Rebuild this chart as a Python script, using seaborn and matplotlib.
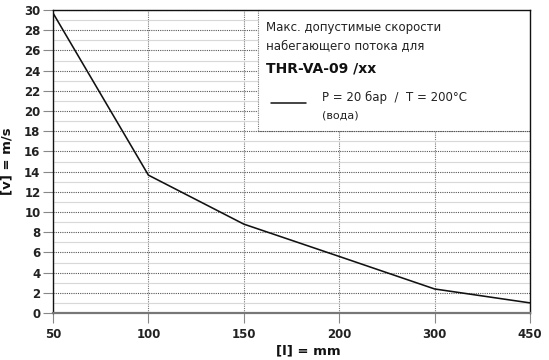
import matplotlib
matplotlib.use("Agg")
import matplotlib.pyplot as plt
import seaborn as sns
import pandas as pd
import numpy as np
from matplotlib.patches import Rectangle

# data
lengths = ["50", "100", "150", "200", "300", "450"]
velocity = [29.7, 13.65, 8.8, 5.6, 2.38, 1.0]
y_ticks = list(range(0, 31, 2))

sns.set_theme(style="white")
plt.rcParams['font.family'] = ['DejaVu Sans']

df = pd.DataFrame({"l": lengths, "v": velocity})

fig = plt.figure(figsize=(5.49, 3.60), dpi=100)
ax = fig.add_axes([53/549, 1-313/360, (530-53)/549, (313-10)/360])

sns.lineplot(data=df, x="l", y="v", ax=ax, color="#111111", linewidth=1.15, sort=False, zorder=5)

ax.set_xlim(0, len(lengths)-1)
ax.set_ylim(0, 30)
ax.set_yticks(y_ticks)
ax.set_yticks(range(1, 30, 2), minor=True)
ax.set_xticks(range(len(lengths)))
ax.set_xticklabels(lengths)

ax.grid(True, which="major", axis="y", linestyle=(0, (1, 1)), color="#555555", linewidth=0.8)
ax.grid(True, which="minor", axis="y", linestyle="-", color="#d8d8d8", linewidth=0.8)
ax.grid(True, which="major", axis="x", linestyle=(0, (1, 1)), color="#777777", linewidth=0.8)
ax.set_axisbelow(True)

for s in ["left", "top", "right"]:
    ax.spines[s].set_color("#111111")
    ax.spines[s].set_linewidth(1.0)
ax.spines["bottom"].set_color("#777777")
ax.spines["bottom"].set_linewidth(1.6)
for s in ax.spines.values():
    s.set_zorder(8)

ax.tick_params(axis="both", which="major", length=7, width=0.8, color="#888888",
               labelsize=8.5, pad=2, direction="out")
ax.tick_params(axis="both", which="minor", length=0)
ax.tick_params(axis="x", bottom=True, pad=4)
ax.tick_params(axis="y", left=True)
for lab in ax.get_xticklabels() + ax.get_yticklabels():
    lab.set_fontweight("bold")
    lab.set_color("#222222")

ax.set_xlabel("[l] = mm", fontsize=9.5, fontweight="bold", color="#111111", labelpad=4)
ax.xaxis.set_label_coords((308-53)/(530-53), -0.105)
ax.set_ylabel("[v] = m/s", fontsize=9.5, fontweight="bold", color="#111111", labelpad=8)

# legend box
x0 = (258-53)/(530-53)
y0 = 18/30
box = Rectangle((x0, y0), 1-x0, 1-y0, transform=ax.transAxes, facecolor="white",
                edgecolor="none", zorder=3)
ax.add_patch(box)
ax.plot([x0, x0], [y0, 1], transform=ax.transAxes, color="#777777",
        linestyle=(0, (1, 1)), linewidth=0.8, zorder=4)
ax.plot([x0, 1], [y0, y0], transform=ax.transAxes, color="#555555",
        linestyle=(0, (1, 1)), linewidth=0.8, zorder=4)

def fx(px):
    return (px-53)/(530-53)
def fy(py):
    return (313-py)/(313-10)

ax.text(fx(266), fy(28), "Макс. допустимые скорости", transform=ax.transAxes,
        fontsize=8.5, va="center", ha="left", color="#222222", zorder=6)
ax.text(fx(266), fy(46), "набегающего потока для", transform=ax.transAxes,
        fontsize=8.5, va="center", ha="left", color="#222222", zorder=6)
ax.text(fx(266), fy(68), "THR-VA-09 /xx", transform=ax.transAxes,
        fontsize=10, fontweight="bold", va="center", ha="left", color="#111111", zorder=6)
ax.plot([fx(271), fx(306)], [fy(103), fy(103)], transform=ax.transAxes,
        color="#111111", linewidth=1.1, zorder=6)
ax.text(fx(322), fy(97), "P = 20 бар  /  T = 200°C", transform=ax.transAxes,
        fontsize=8.5, va="center", ha="left", color="#222222", zorder=6)
ax.text(fx(322), fy(115), "(вода)", transform=ax.transAxes,
        fontsize=8, va="center", ha="left", color="#222222", zorder=6)

fig.savefig("out.png", dpi=100)
